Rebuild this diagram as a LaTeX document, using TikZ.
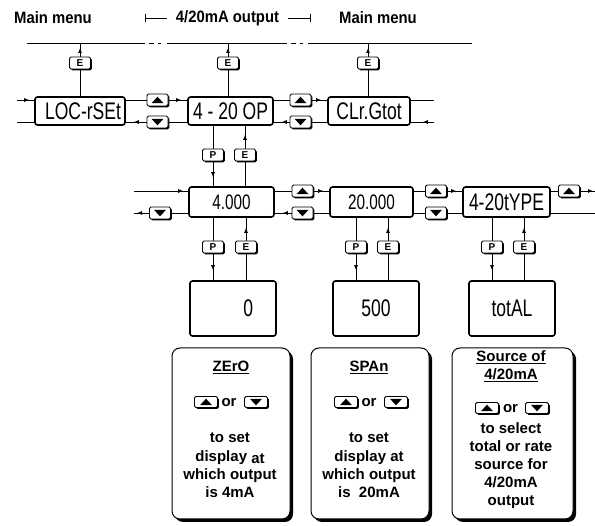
\documentclass[tikz,border=0pt]{standalone}
\usepackage{fontspec}
\setmainfont{Liberation Sans}
\newfontfamily\dispfont{Liberation Sans}[FakeStretch=0.73]
\newfontfamily\headfont{Liberation Sans}[FakeStretch=0.9]
\usetikzlibrary{arrows.meta,decorations.markings,shadows}
\pgfdeclarelayer{back}
\pgfdeclarelayer{lines}
\pgfsetlayers{back,lines,main}
\tikzset{
  conn/.style={line width=0.9pt},
  arr/.style={conn,postaction={decorate},decoration={markings,mark=at position #1 with {\arrow{Latex[length=5pt,width=4pt]}}}},
  arr/.default=-6pt,
  btn/.style={draw,line width=0.8pt,fill=white,rounded corners=1.5pt,minimum width=21pt,minimum height=12pt,inner sep=0pt,
     drop shadow={shadow xshift=1.3pt,shadow yshift=-1.3pt,opacity=1,fill=black},
     font=\fontsize{10}{10}\selectfont\bfseries},
  upbtn/.style={btn,path picture={\fill[black,sharp corners] ([shift={(-6pt,-3.2pt)}]path picture bounding box.center) -- ++(12pt,0pt) -- ++(-6pt,6.5pt) -- cycle;}},
  dnbtn/.style={btn,path picture={\fill[black,sharp corners] ([shift={(-6pt,3.2pt)}]path picture bounding box.center) -- ++(12pt,0pt) -- ++(-6pt,-6.5pt) -- cycle;}},
  disp/.style={draw,line width=1.6pt,fill=white,rounded corners=2.5pt,inner sep=0pt,minimum height=28pt,font=\dispfont\fontsize{24}{24}\selectfont},
  dispsm/.style={disp,minimum height=30pt,font=\dispfont\fontsize{21}{21}\selectfont},
  outbox/.style={disp,minimum width=86pt,minimum height=55pt},
  infobox/.style={draw,line width=1pt,fill=white,rounded corners=8pt,minimum width=118pt,minimum height=171pt,inner sep=0pt,
     drop shadow={shadow xshift=3pt,shadow yshift=-3pt,opacity=1,fill=black}},
  info/.style={anchor=base,inner sep=0pt,font=\fontsize{15}{18}\selectfont\bfseries},
  head/.style={inner sep=0pt,font=\headfont\bfseries\fontsize{16.5}{16.5}\selectfont},
  ibtn/.style={minimum width=23pt,minimum height=11pt},
}
\begin{document}
\begin{tikzpicture}[x=1pt,y=-1pt]
\begin{pgfonlayer}{back}
\fill[white] (0,0) rectangle (595,526);
\end{pgfonlayer}
\useasboundingbox (0,0) rectangle (595,526);

% headings
\node[head] (hm1) at (53,18) {Main menu};
\node[head] (hout) at (227.5,18) {4/20mA output};
\node[head] (hm2) at (378,18) {Main menu};
\coordinate (bl) at (145,18); \coordinate (bl2) at (167,18);
\coordinate (br) at (310,18); \coordinate (br2) at (288,18);
\draw[conn] (bl) -- (bl2);
\draw[conn] ([yshift=4pt]bl) -- ([yshift=-4pt]bl);
\draw[conn] (br2) -- (br);
\draw[conn] ([yshift=4pt]br) -- ([yshift=-4pt]br);

% top line
\coordinate (tl) at (0,43);
\draw[conn] (27,43) -- (145,43);
\draw[conn] (149,43) -- (154,43);
\draw[conn] (158,43) -- (161,43);
\draw[conn] (167,43) -- (287,43);
\draw[conn] (291,43) -- (296,43);
\draw[conn] (300,43) -- (303,43);
\draw[conn] (308,43) -- (472,43);

% row 1
\node[disp,minimum width=90pt] (LOC) at (80,111) {\hspace{6pt}LOC-rSEt};
\node[disp,minimum width=85pt] (OP) at (230.5,111) {4 - 20 OP};
\node[disp,minimum width=82pt] (CLR) at (369,111) {CLr.Gtot};
\node[btn] (eA) at (80,63) {E};
\node[btn] (eB) at (228,63) {E};
\node[btn] (eC) at (368,63) {E};
\node[upbtn] (uA) at (157.5,100) {};
\node[dnbtn] (dA) at (157.5,122) {};
\node[upbtn] (uB) at (300.5,100) {};
\node[dnbtn] (dB) at (300.5,122) {};
\coordinate (in1) at (17,100);
\coordinate (out1) at (17,122);
\coordinate (r1) at (434,100);
\coordinate (r2) at (434,122);

% row 1 -> row 2 buttons
\node[btn] (p0) at (213,155) {P};
\node[btn] (e0) at (245,155) {E};

% row 2
\node[dispsm,minimum width=85pt] (V1) at (231.5,202) {4.000};
\node[dispsm,minimum width=83pt] (V2) at (371.5,202) {20.000};
\node[dispsm,minimum width=87pt,font=\dispfont\fontsize{24}{24}\selectfont] (TY) at (506.5,202) {4-20tYPE};
\node[dnbtn] (d0) at (160,213) {};
\node[upbtn] (u3) at (302.5,191) {};
\node[dnbtn] (d3) at (302.5,213) {};
\node[upbtn] (u4) at (436,191) {};
\node[dnbtn] (d4) at (436,213) {};
\node[upbtn] (u5) at (569,191) {};
\coordinate (in2) at (134,191);
\coordinate (out2) at (134,213);
\coordinate (out3) at (595,191);
\coordinate (out4) at (595,213);

% row 2 -> row 3 buttons
\node[btn] (p1) at (213,247) {P};
\node[btn] (e1) at (246,247) {E};
\node[btn] (p2) at (356,247) {P};
\node[btn] (e2) at (388,247) {E};
\node[btn] (p3) at (492,247) {P};
\node[btn] (e3) at (524,247) {E};

% row 3
\node[outbox] (B1) at (233,308.5) {\makebox[40pt][r]{0}};
\node[outbox] (B2) at (376,308.5) {500};
\node[outbox] (B3) at (512,308.5) {totAL};

\begin{pgfonlayer}{lines}
\draw[arr=-5pt] (LOC.north -| eA) -- (eA) -- (eA |- tl);
\draw[arr=-5pt] (OP.north -| eB) -- (eB) -- (eB |- tl);
\draw[arr=-5pt] (CLR.north -| eC) -- (eC) -- (eC |- tl);
\draw[arr=-5pt] (in1) -- (in1 -| LOC.west);
\draw[conn] (LOC.west |- out1) -- (out1);
\draw[arr] (LOC.east |- uA) -- (uA) -- (OP.west |- uA);
\draw[arr=-8pt] (OP.west |- dA) -- (dA) -- (LOC.east |- dA);
\draw[arr] (OP.east |- uB) -- (uB) -- (CLR.west |- uB);
\draw[arr=-8pt] (CLR.west |- dB) -- (dB) -- (OP.east |- dB);
\draw[conn] (CLR.east |- r1) -- (r1);
\draw[arr=-12pt] (r2) -- (r2 -| CLR.east);
\draw[arr=-9pt] (OP.south -| p0) -- (p0) -- (V1.north -| p0);
\draw[arr=-9pt] (V1.north -| e0) -- (e0) -- (OP.south -| e0);
\draw[arr=-5pt] (in2) -- (in2 -| V1.west);
\draw[arr=-3pt] (V1.west |- d0) -- (d0) -- (out2);
\draw[arr] (V1.east |- u3) -- (u3) -- (V2.west |- u3);
\draw[arr=-8pt] (V2.west |- d3) -- (d3) -- (V1.east |- d3);
\draw[arr] (V2.east |- u4) -- (u4) -- (TY.west |- u4);
\draw[conn] (TY.west |- d4) -- (d4) -- (V2.east |- d4);
\draw[arr=-2pt] (TY.east |- u5) -- (u5) -- (out3);
\draw[conn] (TY.east |- out4) -- (out4);
\draw[arr=-10pt] (V1.south -| p1) -- (p1) -- (B1.north -| p1);
\draw[arr=-10pt] (B1.north -| e1) -- (e1) -- (V1.south -| e1);
\draw[arr=-10pt] (V2.south -| p2) -- (p2) -- (B2.north -| p2);
\draw[arr=-10pt] (B2.north -| e2) -- (e2) -- (V2.south -| e2);
\draw[arr=-10pt] (TY.south -| p3) -- (p3) -- (B3.north -| p3);
\draw[arr=-10pt] (B3.north -| e3) -- (e3) -- (TY.south -| e3);
\end{pgfonlayer}

% info boxes
\node[infobox] (Z) at (231,433.5) {};
\node[infobox] (S) at (370,433.5) {};
\node[infobox,minimum width=121pt] (SRC) at (512.5,433.5) {};

\node[info] (zt) at (231,372) {\underline{ZErO}};
\node[upbtn,ibtn] (zu) at (206,402) {};
\node[info] (zor) at (229,407) {or};
\node[dnbtn,ibtn] (zd) at (256,402) {};
\node[info] (z1) at (230,443) {to set};
\node[info] (z2) at (230,462) {display \raisebox{-1.5pt}{at}};
\node[info] (z3) at (230,480) {which output};
\node[info] (z4) at (230,498) {is 4mA};

\node[info] (st) at (369,372) {\underline{SPAn}};
\node[upbtn,ibtn] (su) at (346,402) {};
\node[info] (sor) at (369,407) {or};
\node[dnbtn,ibtn] (sd) at (396,402) {};
\node[info] (s1) at (369,443) {to set};
\node[info] (s2) at (369,462) {display at};
\node[info] (s3) at (369,480) {which output};
\node[info] (s4) at (369,498) {is\ \ 20mA};

\node[info] (ot1) at (511,362) {\underline{Source of}};
\node[info] (ot2) at (511,380) {\underline{4/20mA}};
\node[upbtn,ibtn] (ou) at (487,408) {};
\node[info] (oor) at (510.5,413) {or};
\node[dnbtn,ibtn] (od) at (537,408) {};
\node[info] (o1) at (511,434) {to select};
\node[info] (o2) at (511,452) {total or rate};
\node[info] (o3) at (511,470) {source for};
\node[info] (o4) at (511,488) {4/20mA};
\node[info] (o5) at (511,506) {output};
\end{tikzpicture}
\end{document}
